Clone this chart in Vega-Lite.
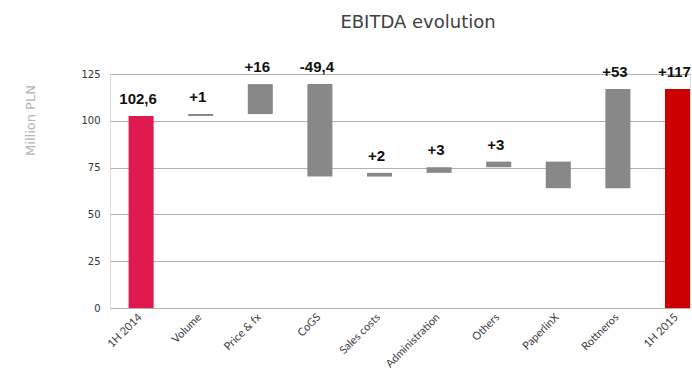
{
  "$schema": "https://vega.github.io/schema/vega-lite/v6.json",
  "autosize": {"type": "none"},
  "width": 580,
  "height": 234,
  "padding": {"left": 110, "top": 74, "right": 2, "bottom": 62},
  "background": "white",
  "title": {
    "text": "EBITDA evolution",
    "font": "DejaVu Sans",
    "fontSize": 18,
    "fontWeight": "normal",
    "color": "#404040",
    "anchor": "middle",
    "dx": 18,
    "offset": 28
  },
  "data": {
    "values": [
      {"step": "1H 2014", "start": 0, "end": 102.6, "label": "102,6", "kind": "open"},
      {"step": "Volume", "start": 102.6, "end": 103.6, "label": "+1", "kind": "delta"},
      {"step": "Price & fx", "start": 103.6, "end": 119.6, "label": "+16", "kind": "delta"},
      {"step": "CoGS", "start": 119.6, "end": 70.2, "label": "-49,4", "kind": "delta"},
      {"step": "Sales costs", "start": 70.2, "end": 72.2, "label": "+2", "kind": "delta"},
      {"step": "Administration", "start": 72.2, "end": 75.2, "label": "+3", "kind": "delta"},
      {"step": "Others", "start": 75.2, "end": 78.2, "label": "+3", "kind": "delta"},
      {"step": "PaperlinX", "start": 78.2, "end": 64.0, "label": "", "kind": "delta"},
      {"step": "Rottneros", "start": 64.0, "end": 117.0, "label": "+53", "kind": "delta"},
      {"step": "1H 2015", "start": 0, "end": 117.0, "label": "+117", "kind": "close"}
    ]
  },
  "encoding": {
    "x": {
      "field": "step",
      "type": "nominal",
      "sort": null,
      "scale": {"paddingInner": 0.58, "paddingOuter": 0.156, "align": 1},
      "axis": {
        "title": null,
        "labelAngle": -45,
        "labelFont": "Lato",
        "labelFontSize": 11,
        "labelColor": "#404040",
        "labelPadding": 3,
        "labelOffset": -5,
        "ticks": false,
        "domain": false
      }
    }
  },
  "layer": [
    {
      "mark": {"type": "bar"},
      "encoding": {
        "y": {
          "field": "start",
          "type": "quantitative",
          "scale": {"domain": [0, 125], "nice": false},
          "axis": {
            "values": [0, 25, 50, 75, 100, 125],
            "title": "Million PLN",
            "titleFont": "DejaVu Sans",
            "titleFontSize": 13,
            "titleFontWeight": "normal",
            "titleColor": "#b4b4b4",
            "titleX": -80,
            "titleY": 46,
            "titleAngle": -90,
            "titleAlign": "center",
            "titleBaseline": "middle",
            "labelFont": "DejaVu Sans",
            "labelFontSize": 10,
            "labelColor": "#333333",
            "labelPadding": 10,
            "domain": false,
            "ticks": false,
            "grid": true,
            "gridColor": "#b0b0b0",
            "gridWidth": 1
          }
        },
        "y2": {"field": "end"},
        "color": {
          "field": "kind",
          "type": "nominal",
          "scale": {"domain": ["open", "delta", "close"], "range": ["#e0194e", "#888888", "#cc0000"]},
          "legend": null
        }
      }
    },
    {
      "transform": [{"calculate": "max(datum.start, datum.end)", "as": "top"}],
      "mark": {
        "type": "text",
        "baseline": "bottom",
        "dy": -9,
        "dx": -3,
        "font": "Liberation Sans",
        "fontSize": 15,
        "fontWeight": "bold",
        "color": "#111111"
      },
      "encoding": {
        "y": {"field": "top", "type": "quantitative"},
        "text": {"field": "label"}
      }
    }
  ]
}
